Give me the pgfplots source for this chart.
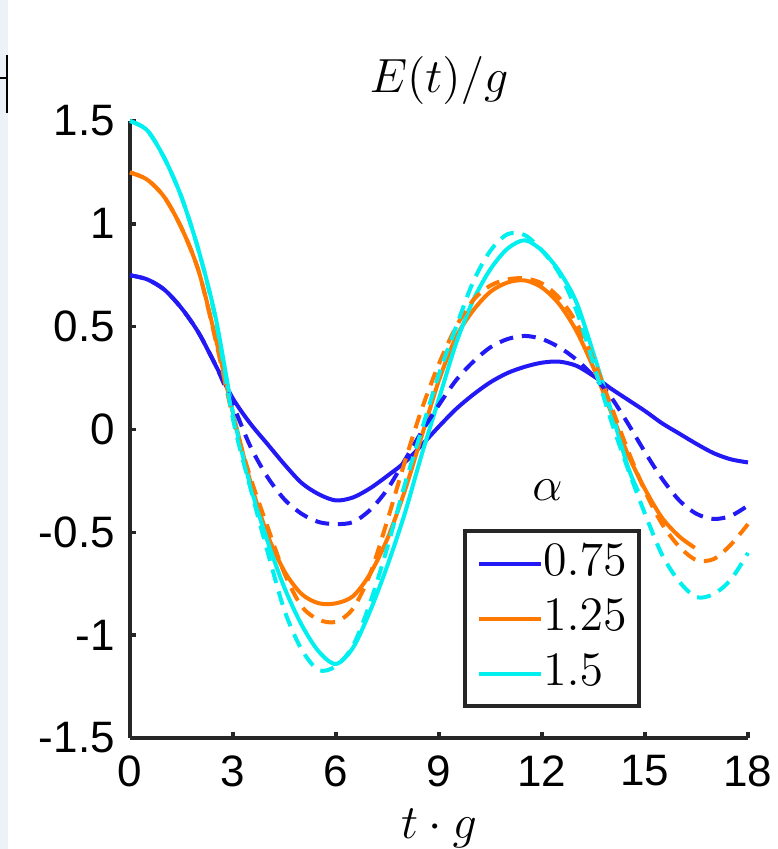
\documentclass[border=0pt]{standalone}
\usepackage{fontspec}
\usepackage{pgfplots}
\pgfplotsset{compat=1.18}
\newfontfamily\ticksf{Liberation Sans}
\definecolor{cblue}{RGB}{35,25,245}
\definecolor{corange}{RGB}{255,120,0}
\definecolor{ccyan}{RGB}{0,240,240}
\definecolor{axgray}{RGB}{38,38,38}
\definecolor{stripbg}{RGB}{237,242,249}
\begin{document}
\begin{tikzpicture}
\path[use as bounding box, fill=white] (-32.5pt,-27.75pt) rectangle (162pt,184.5pt);
\fill[stripbg] (-32.5pt,-27.75pt) rectangle (-30.5pt,184.5pt);
\draw[black, line width=0.4pt] (-32.5pt,165pt) -- (-30.75pt,165pt);
\draw[black, line width=0.5pt] (-30.75pt,156.25pt) -- (-30.75pt,170.75pt);
\begin{axis}[
  width=154.5pt, height=154.25pt, scale only axis,
  xmin=0, xmax=18, ymin=-1.5, ymax=1.5,
  axis x line*=bottom, axis y line*=left,
  axis line style={axgray, line width=1pt, -},
  xtick={0,3,6,9,12,15,18},
  xticklabels={0,3,6,9,12,15,18},
  ytick={-1.5,-1,-0.5,0,0.5,1,1.5},
  yticklabels={-1.5,-1,-0.5,0,0.5,1,1.5},
  tick align=inside, major tick length=1.5pt,
  tick style={axgray, line width=0.9pt},
  ticklabel style={font=\ticksf\fontsize{11}{13}\selectfont, text=black},
  /pgf/number format/assume math mode=true,
  yticklabel style={inner sep=0pt, xshift=-3.6pt},
  xticklabel style={inner sep=0pt, yshift=-4.2pt},
  xlabel={$t\cdot g$},
  xlabel style={at={(axis description cs:0.5,0)}, anchor=base, yshift=-25pt, font=\fontsize{11.5}{13}\selectfont},
  clip=false,
  legend image code/.code={\draw[#1] (0pt,0pt) -- (15.5pt,0pt);},
  legend style={at={(rel axis cs:0.539,0.0486)}, anchor=south west,
    draw=axgray, line width=1pt, fill=white,
    inner xsep=3pt, inner ysep=3.1pt, row sep=3.75pt,
    font=\fontsize{11.5}{13}\selectfont,
    nodes={inner sep=0pt, text height=8pt, text depth=2pt}},
  legend cell align=left,
]
% alpha = 0.75 solid
\addplot[cblue, line width=1pt, smooth] coordinates {
(0,0.75)(0.5,0.73)(1,0.68)(1.5,0.59)(2,0.47)(2.5,0.31)(3,0.15)(3.5,0.03)(4,-0.07)(4.5,-0.17)(5,-0.26)(5.5,-0.315)(6,-0.345)(6.5,-0.33)(7,-0.285)(7.5,-0.225)(8,-0.16)(8.5,-0.075)(9,0.015)(9.5,0.10)(10,0.17)(10.5,0.23)(11,0.275)(11.5,0.305)(12,0.325)(12.5,0.33)(13,0.31)(13.5,0.26)(14,0.20)(14.5,0.145)(15,0.09)(15.5,0.03)(16,-0.02)(16.5,-0.07)(17,-0.115)(17.5,-0.145)(18,-0.16)};
\addlegendentry{$0.75$}
% alpha = 1.25 solid
\addplot[corange, line width=1pt, smooth] coordinates {
(0,1.25)(0.5,1.215)(1,1.13)(1.5,0.98)(2,0.77)(2.5,0.44)(3,0.08)(3.5,-0.25)(4,-0.51)(4.5,-0.69)(5,-0.80)(5.5,-0.845)(6,-0.845)(6.5,-0.81)(7,-0.70)(7.5,-0.53)(8,-0.30)(8.5,-0.03)(9,0.24)(9.5,0.45)(10,0.58)(10.5,0.67)(11,0.715)(11.5,0.725)(12,0.69)(12.5,0.61)(13,0.48)(13.5,0.30)(14,0.09)(14.5,-0.12)(15,-0.29)(15.5,-0.43)(16,-0.52)(16.45,-0.575)};
\addlegendentry{$1.25$}
% alpha = 1.5 solid
\addplot[ccyan, line width=1pt, smooth] coordinates {
(0,1.5)(0.5,1.455)(1,1.32)(1.5,1.13)(2,0.87)(2.5,0.54)(3,0.08)(3.5,-0.27)(4,-0.54)(4.5,-0.77)(5,-0.95)(5.5,-1.08)(6,-1.14)(6.5,-1.06)(7,-0.88)(7.5,-0.66)(8,-0.41)(8.5,-0.12)(9,0.15)(9.5,0.42)(10,0.63)(10.5,0.78)(11,0.88)(11.5,0.92)(12,0.87)(12.5,0.77)(13,0.62)(13.5,0.37)(14,0.10)(14.5,-0.18)(14.8,-0.30)};
\addlegendentry{$1.5$}
% dashed
\addplot[cblue, line width=1pt, smooth, dash pattern=on 3.5pt off 2.2pt] coordinates {
(0,0.75)(0.5,0.73)(1,0.68)(1.5,0.59)(2,0.47)(2.5,0.31)(3,0.12)(3.5,-0.08)(4,-0.23)(4.5,-0.34)(5,-0.41)(5.5,-0.45)(6,-0.46)(6.5,-0.45)(7,-0.39)(7.5,-0.29)(8,-0.15)(8.5,-0.01)(9,0.12)(9.5,0.24)(10,0.33)(10.5,0.40)(11,0.44)(11.5,0.455)(12,0.44)(12.5,0.40)(13,0.34)(13.5,0.26)(14,0.16)(14.5,0.03)(15,-0.11)(15.5,-0.24)(16,-0.345)(16.5,-0.41)(17,-0.435)(17.5,-0.42)(18,-0.37)};
\addplot[corange, line width=1pt, smooth, dash pattern=on 3.5pt off 2.2pt] coordinates {
(0,1.25)(0.5,1.215)(1,1.13)(1.5,0.98)(2,0.77)(2.5,0.43)(3,0.06)(3.5,-0.23)(4,-0.47)(4.5,-0.70)(5,-0.86)(5.5,-0.925)(6,-0.935)(6.5,-0.87)(7,-0.70)(7.5,-0.44)(8,-0.16)(8.5,0.10)(9,0.32)(9.5,0.50)(10,0.63)(10.5,0.70)(11,0.73)(11.5,0.735)(12,0.71)(12.5,0.64)(13,0.52)(13.5,0.34)(14,0.12)(14.5,-0.10)(15,-0.30)(15.5,-0.46)(16,-0.57)(16.5,-0.635)(17,-0.63)(17.5,-0.56)(18,-0.46)};
\addplot[ccyan, line width=1pt, smooth, dash pattern=on 3.5pt off 2.2pt] coordinates {
(0,1.5)(0.5,1.455)(1,1.32)(1.5,1.13)(2,0.87)(2.5,0.53)(3,0.05)(3.5,-0.28)(4,-0.59)(4.5,-0.88)(5,-1.07)(5.5,-1.17)(6,-1.15)(6.5,-1.05)(7,-0.84)(7.5,-0.57)(8,-0.27)(8.5,0.0)(9,0.27)(9.5,0.50)(10,0.72)(10.5,0.87)(11,0.95)(11.5,0.945)(12,0.87)(12.5,0.76)(13,0.58)(13.5,0.32)(14,0.05)(14.5,-0.19)(15,-0.41)(15.5,-0.61)(16,-0.74)(16.5,-0.815)(17,-0.80)(17.5,-0.73)(18,-0.60)};
\node[anchor=base, font=\fontsize{11.5}{13}\selectfont] at (axis cs:12.16,-0.345) {$\alpha$};
\node[anchor=base, font=\fontsize{11.5}{13}\selectfont, yshift=7.25pt] at (rel axis cs:0.5,1) {$E(t)/g$};
\end{axis}
\end{tikzpicture}
\end{document}
